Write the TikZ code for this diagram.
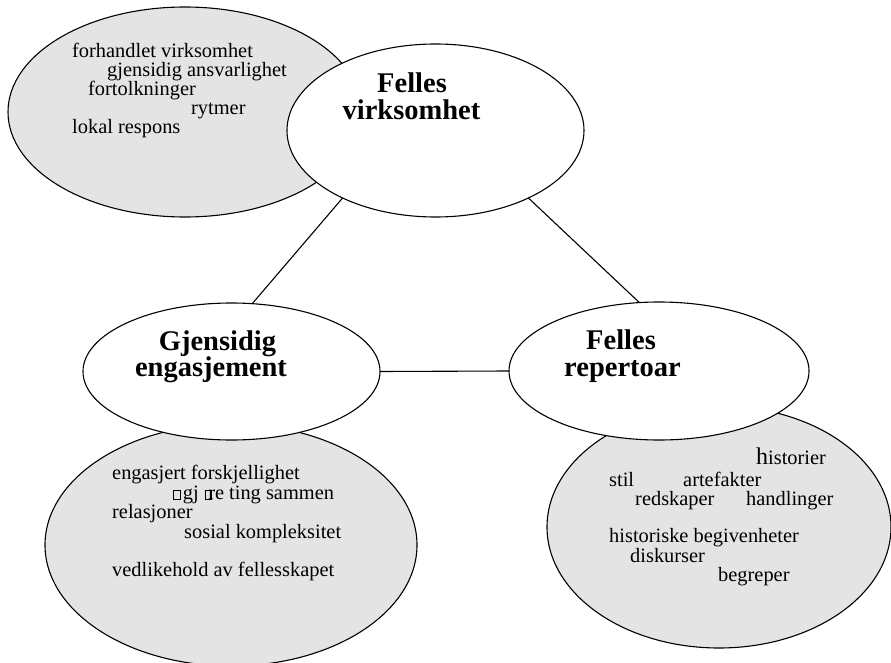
\documentclass[tikz,border=0pt]{standalone}
\usepackage{fontspec}
\setmainfont{Liberation Serif}
\usetikzlibrary{shapes.geometric}
\definecolor{shade}{RGB}{228,228,228}
\newcommand\tofu{{\fboxsep=0pt\fboxrule=0.9pt\fbox{\rule{0pt}{8.6pt}\hspace{5.8pt}}}}
\begin{document}
\begin{tikzpicture}[x=1pt,y=-1pt,
  oval/.style={ellipse, draw, line width=1.1pt, inner sep=0pt, outer sep=0pt},
  bubble/.style={oval, fill=shade},
  hub/.style={oval, fill=white},
  small/.style={anchor=base west, inner sep=0pt, font=\fontsize{20.4}{19}\selectfont},
  title/.style={anchor=base, inner sep=0pt, font=\fontsize{28.5}{27}\selectfont\bfseries},
  link/.style={line width=1.1pt}]
\useasboundingbox (0,0) rectangle (891,663);
% grey bubbles
\node[bubble, minimum width=354pt, minimum height=210pt] (gtl) at (185,112) {};
\node[bubble, minimum width=372pt, minimum height=242pt] (gbl) at (231,545) {};
\node[bubble, minimum width=344pt, minimum height=242pt] (gbr) at (719,527) {};
% white hubs
\node[hub, minimum width=297pt, minimum height=173pt] (top) at (435.5,130.5) {};
\node[hub, minimum width=297pt, minimum height=137pt] (left) at (231.5,371.5) {};
\node[hub, minimum width=300pt, minimum height=138pt] (right) at (659,371) {};
% connectors
\draw[link] (top.216) -- (left.73);
\draw[link] (top.324) -- (right.106);
\draw[link] (left.east) -- (right.west);
% titles
\node[title] (tt1) at (412,93) {Felles};
\node[title] (tt2) at (411.5,120) {virksomhet};
\node[title] (lt1) at (217.5,350) {Gjensidig};
\node[title] (lt2) at (211,376) {engasjement};
\node[title] (rt1) at (621,349) {Felles};
\node[title] (rt2) at (622.5,376) {repertoar};
% top-left bubble text
\node[small] (a1) at (72,58) {forhandlet virksomhet};
\node[small] (a2) at (107,77) {gjensidig ansvarlighet};
\node[small] (a3) at (88,96) {fortolkninger};
\node[small] (a4) at (191,115) {rytmer};
\node[small] (a5) at (72,134) {lokal respons};
% bottom-left bubble text
\node[small] (b1) at (112,479) {engasjert forskjellighet};
\node[small] (b2) at (173,499) {\tofu\kern2pt gj\kern6pt\tofu\kern-4pt re ting sammen};
\node[small] (b3) at (112,518) {relasjoner};
\node[small] (b4) at (184,538) {sosial kompleksitet};
\node[small] (b5) at (112,576) {vedlikehold av fellesskapet};
% bottom-right bubble text
\node[small] (c1) at (756,464) {{\fontsize{24}{24}\selectfont h}istorier};
\node[small] (c2) at (609,486) {stil};
\node[small] (c3) at (683,486) {artefakter};
\node[small] (c4) at (635,505) {redskaper};
\node[small] (c5) at (746,505) {handlinger};
\node[small] (c6) at (609,542) {historiske begivenheter};
\node[small] (c7) at (630,562) {diskurser};
\node[small] (c8) at (718,581) {begreper};
\end{tikzpicture}
\end{document}
